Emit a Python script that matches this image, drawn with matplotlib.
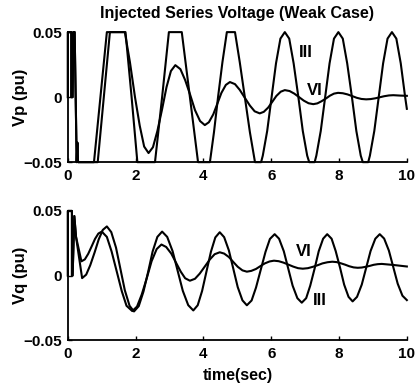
import matplotlib
matplotlib.use("Agg")
import matplotlib.pyplot as plt

plt.rcParams["font.family"] = ["Liberation Sans", "DejaVu Sans"]
plt.rcParams["font.weight"] = "bold"
plt.rcParams["axes.titleweight"] = "bold"
plt.rcParams["axes.labelweight"] = "bold"

# ---- Vp (top panel) ----
vp_iii_t = [0, 0, 0.1, 0.1, 0.14, 0.16, 0.2, 0.26, 0.28, 0.3,
            0.88, 1.06, 1.24, 1.70, 1.88, 2.05, 2.57, 2.78, 2.98, 3.36,
            3.60, 3.84, 4.19, 4.31, 4.43, 4.56, 4.69, 4.93, 5.07, 5.22,
            5.37, 5.52, 5.70, 5.75, 5.88, 6.01, 6.14, 6.27, 6.40, 6.53,
            6.66, 6.80, 6.93, 7.06, 7.12, 7.28, 7.33, 7.46, 7.59, 7.72,
            7.85, 7.98, 8.11, 8.24, 8.38, 8.51, 8.64, 8.70, 8.86, 8.91,
            9.04, 9.17, 9.30, 9.43, 9.56, 9.69, 9.82, 9.95, 10.0]
vp_iii = [0, 0.05, 0.05, 0, 0, 0.05, 0.05, -0.05, -0.035, -0.05,
          -0.05, 0, 0.05, 0.05, 0, -0.05, -0.05, 0, 0.05, 0.05,
          0, -0.05, -0.05, -0.027, 0, 0.027, 0.05, 0.05, 0.027, 0,
          -0.027, -0.05, -0.05, -0.045, -0.026, 0, 0.026, 0.045, 0.05, 0.045,
          0.026, 0, -0.026, -0.045, -0.05, -0.05, -0.045, -0.026, 0, 0.026,
          0.045, 0.05, 0.045, 0.026, 0, -0.026, -0.045, -0.05, -0.05, -0.045,
          -0.026, 0, 0.026, 0.045, 0.05, 0.045, 0.026, 0, -0.009]

vp_vi_t = [0, 0, 0.1, 0.1, 0.14, 0.16, 0.2, 0.26, 0.28, 0.3,
           0.77, 0.96, 1.15, 1.68, 1.83, 1.98, 2.12, 2.25, 2.38, 2.51,
           2.64, 2.78, 2.91, 3.04, 3.17, 3.32, 3.46, 3.61, 3.75, 3.90,
           4.04, 4.16, 4.29, 4.41, 4.53, 4.66, 4.78, 4.93, 5.07, 5.22,
           5.37, 5.51, 5.66, 5.78, 5.91, 6.03, 6.15, 6.28, 6.40, 6.54,
           6.68, 6.82, 6.96, 7.10, 7.24, 7.36, 7.48, 7.61, 7.73, 7.85,
           7.97, 8.11, 8.25, 8.39, 8.52, 8.66, 8.80, 8.93, 9.07, 9.20,
           9.33, 9.47, 9.60, 9.80, 10.0]
vp_vi = [0, 0.05, 0.05, 0, 0, 0.05, 0.05, -0.05, -0.035, -0.05,
         -0.05, 0, 0.05, 0.05, 0.027, 0, -0.022, -0.038, -0.043, -0.0385,
         -0.0261, -0.0092, 0.0077, 0.0201, 0.0246, 0.0215, 0.0131, 0.0016, -0.0100, -0.0184,
         -0.0215, -0.0193, -0.0132, -0.0050, 0.0033, 0.0094, 0.0116, 0.0100, 0.0056, -0.0005,
         -0.0065, -0.0109, -0.0125, -0.0113, -0.0080, -0.0036, 0.0009, 0.0042, 0.0054, 0.0047,
         0.0027, 0, -0.0027, -0.0047, -0.0054, -0.0048, -0.0032, -0.0011, 0.0011, 0.0027,
         0.0033, 0.0030, 0.0021, 0.0008, -0.0005, -0.0014, -0.0017, -0.0015, -0.0009, -0.0001,
         0.0007, 0.0013, 0.0015, 0.0012, 0.0010]

# ---- Vq (bottom panel) ----
vq_iii_t = [0, 0, 0.12, 0.12, 0.14, 0.19, 0.24, 0.42, 0.54, 0.66,
            0.79, 0.91, 1.03, 1.15, 1.28, 1.42, 1.55, 1.68, 1.82, 1.95,
            2.09, 2.23, 2.37, 2.50, 2.64, 2.78, 2.93, 3.09, 3.24, 3.39,
            3.55, 3.70, 3.83, 3.96, 4.09, 4.22, 4.35, 4.48, 4.61, 4.75,
            4.88, 5.01, 5.15, 5.28, 5.42, 5.55, 5.69, 5.83, 5.96, 6.10,
            6.23, 6.37, 6.50, 6.63, 6.77, 6.90, 7.03, 7.15, 7.28, 7.40,
            7.53, 7.65, 7.78, 7.90, 8.03, 8.15, 8.28, 8.40, 8.53, 8.67,
            8.80, 8.93, 9.07, 9.20, 9.33, 9.47, 9.60, 9.73, 9.87, 10.0]
vq_iii = [0, 0.05, 0.05, 0, 0, 0.046, 0.03, -0.002, 0.0007, 0.008,
          0.018, 0.028, 0.0353, 0.038, 0.0336, 0.0216, 0.0051, -0.0114, -0.0234, -0.0278,
          -0.0237, -0.0124, 0.0031, 0.0186, 0.0299, 0.034, 0.0299, 0.0188, 0.0035, -0.0118,
          -0.0229, -0.027, -0.023, -0.0119, 0.0033, 0.0184, 0.0295, 0.0335, 0.0297, 0.0194,
          0.0053, -0.0089, -0.0192, -0.023, -0.0193, -0.0093, 0.0045, 0.0183, 0.0283, 0.032,
          0.0285, 0.0188, 0.0055, -0.0078, -0.0175, -0.021, -0.0175, -0.0078, 0.0055, 0.0188,
          0.0285, 0.032, 0.0285, 0.019, 0.006, -0.007, -0.0165, -0.020, -0.0165, -0.007,
          0.006, 0.019, 0.0285, 0.032, 0.0286, 0.0193, 0.0065, -0.0063, -0.0156, -0.019]

vq_vi_t = [0, 0, 0.12, 0.12, 0.14, 0.19, 0.24, 0.40, 0.50, 0.60,
           0.70, 0.80, 0.90, 1.00, 1.15, 1.29, 1.44, 1.59, 1.73, 1.90,
           2.04, 2.18, 2.33, 2.47, 2.62, 2.76, 2.90, 3.05, 3.19, 3.33,
           3.46, 3.60, 3.75, 3.89, 4.04, 4.19, 4.33, 4.48, 4.61, 4.75,
           4.88, 5.01, 5.15, 5.28, 5.41, 5.55, 5.68, 5.81, 5.95, 6.08,
           6.22, 6.36, 6.51, 6.65, 6.79, 6.93, 7.08, 7.22, 7.37, 7.51,
           7.66, 7.80, 7.93, 8.05, 8.18, 8.30, 8.43, 8.55, 8.67, 8.79,
           8.91, 9.02, 9.14, 9.26, 9.60, 10.0]
vq_vi = [0, 0.05, 0.05, 0, 0, 0.046, 0.03, 0.011, 0.0125, 0.0168,
         0.0225, 0.0283, 0.0325, 0.034, 0.0299, 0.0186, 0.0033, -0.0121, -0.0234, -0.0275,
         -0.0240, -0.0146, -0.0018, 0.0111, 0.0205, 0.024, 0.0221, 0.017, 0.010, 0.003,
         -0.0021, -0.004, -0.0025, 0.0015, 0.007, 0.0125, 0.0165, 0.018, 0.017, 0.0143,
         0.0105, 0.0068, 0.004, 0.003, 0.0036, 0.0051, 0.0073, 0.0094, 0.0109, 0.0115,
         0.0111, 0.0100, 0.0084, 0.0069, 0.0057, 0.0053, 0.0057, 0.0067, 0.008, 0.0094,
         0.0103, 0.0107, 0.0104, 0.0095, 0.0084, 0.0072, 0.0063, 0.006, 0.0062, 0.0068,
         0.0075, 0.0083, 0.0088, 0.009, 0.0082, 0.007]

x_ticks = [0, 2, 4, 6, 8, 10]
y_ticks = [-0.05, 0, 0.05]
y_ticklabels = ["\u22120.05", "0", "0.05"]

fig = plt.figure(figsize=(4.19, 3.87), dpi=100)
ax1 = fig.add_axes([0.162, 0.581, 0.809, 0.336])
ax2 = fig.add_axes([0.162, 0.121, 0.809, 0.334])

lw = 1.5
ax1.plot(vp_iii_t, vp_iii, color="black", lw=lw, clip_on=False)
ax1.plot(vp_vi_t, vp_vi, color="black", lw=lw, clip_on=False)
ax2.plot(vq_iii_t, vq_iii, color="black", lw=lw, clip_on=False)
ax2.plot(vq_vi_t, vq_vi, color="black", lw=lw, clip_on=False)

for ax in (ax1, ax2):
    ax.set_xlim(0, 10)
    ax.set_ylim(-0.05, 0.05)
    ax.set_xticks(x_ticks)
    ax.set_xticklabels([str(v) for v in x_ticks])
    ax.set_yticks(y_ticks)
    ax.set_yticklabels(y_ticklabels)
    ax.spines["top"].set_visible(False)
    ax.spines["right"].set_visible(False)
    ax.spines["left"].set_linewidth(1.3)
    ax.spines["bottom"].set_linewidth(1.3)
    ax.tick_params(direction="in", length=3, width=1, labelsize=11)
    ax.tick_params(axis="x", pad=5)
    ax.tick_params(axis="y", pad=4)

ax1.set_title("Injected Series Voltage (Weak Case)", fontsize=11.5, pad=10)
ax1.set_ylabel("Vp (pu)", fontsize=12)
ax2.set_ylabel("Vq (pu)", fontsize=12)
ax1.yaxis.set_label_coords(-0.118, 0.5)
ax2.yaxis.set_label_coords(-0.118, 0.5)
ax2.set_xlabel("time(sec)", fontsize=11.5, labelpad=5)

ax1.text(7.02, 0.0346, "III", fontsize=12, ha="center", va="center")
ax1.text(7.29, 0.0054, "VI", fontsize=12, ha="center", va="center")
ax2.text(6.96, 0.0183, "VI", fontsize=12, ha="center", va="center")
ax2.text(7.43, -0.019, "III", fontsize=12, ha="center", va="center")

fig.savefig("out.png", dpi=100)
